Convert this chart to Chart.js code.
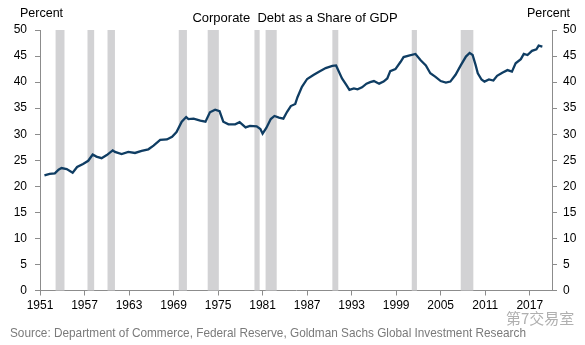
<!DOCTYPE html>
<html>
<head>
<meta charset="utf-8">
<script src="https://cdn.jsdelivr.net/npm/chart.js@4/dist/chart.umd.min.js"></script>
<style>
html,body{margin:0;padding:0;background:#fff;}
#wrap{width:585px;height:345px;position:relative;}
</style>
</head>
<body>
<div id="wrap"><canvas id="c" width="585" height="345"></canvas></div>
<script>
// ---- Data ----
const chartTitle = "Corporate  Debt as a Share of GDP";
const axisUnit = "Percent";
const sourceNote = "Source: Department of Commerce, Federal Reserve, Goldman Sachs Global Investment Research";
const watermark = "第7交易室";

const xTickYears = [1951, 1957, 1963, 1969, 1975, 1981, 1987, 1993, 1999, 2005, 2011, 2017];
const yTickValues = [0, 5, 10, 15, 20, 25, 30, 35, 40, 45, 50];

const recessionStarts = [1953.1, 1957.4, 1960.1, 1969.7, 1973.6, 1979.9, 1981.4, 1990.4, 2001.1, 2007.7];
const recessionEnds   = [1954.3, 1958.3, 1961.1, 1970.8, 1975.1, 1980.6, 1982.9, 1991.2, 2001.8, 2009.4];

const years = [
  1951.6, 1952.3, 1953.0, 1953.5, 1953.9, 1954.6, 1955.4, 1956.0, 1956.8, 1957.5,
  1958.1, 1958.6, 1959.3, 1960.0, 1960.8, 1961.1, 1962.0, 1962.9, 1963.8, 1964.7,
  1965.6, 1966.3, 1967.2, 1968.1, 1968.8, 1969.4, 1970.1, 1970.7, 1971.0, 1971.7,
  1972.6, 1973.3, 1973.9, 1974.6, 1975.2, 1975.7, 1976.4, 1977.3, 1977.9, 1978.7,
  1979.3, 1980.2, 1980.7, 1981.0, 1981.5, 1982.1, 1982.6, 1983.2, 1983.8, 1984.3,
  1984.8, 1985.4, 1985.7, 1986.3, 1987.0, 1987.9, 1988.6, 1989.5, 1990.4, 1990.9,
  1991.7, 1992.3, 1992.7, 1993.3, 1993.8, 1994.4, 1995.0, 1995.5, 1996.0, 1996.7,
  1997.3, 1997.8, 1998.2, 1998.9, 1999.6, 2000.0, 2000.7, 2001.6, 2002.3, 2003.0,
  2003.6, 2004.3, 2005.0, 2005.7, 2006.3, 2007.0, 2007.7, 2008.4, 2008.9, 2009.3,
  2009.7, 2010.0, 2010.5, 2010.9, 2011.5, 2012.1, 2012.6, 2013.3, 2014.0, 2014.6,
  2015.1, 2015.8, 2016.2, 2016.7, 2017.3, 2017.9, 2018.2, 2018.7
];
const debtShare = [
  22.1, 22.4, 22.5, 23.2, 23.5, 23.3, 22.6, 23.7, 24.3, 24.9,
  26.1, 25.7, 25.4, 26.0, 26.9, 26.6, 26.2, 26.6, 26.4, 26.8,
  27.1, 27.8, 28.9, 29.0, 29.5, 30.4, 32.4, 33.3, 32.9, 33.0,
  32.6, 32.4, 34.2, 34.7, 34.4, 32.4, 31.9, 31.9, 32.3, 31.3,
  31.6, 31.5, 31.0, 30.1, 31.2, 32.9, 33.5, 33.2, 33.0, 34.3,
  35.4, 35.8, 37.1, 39.1, 40.6, 41.4, 42.0, 42.7, 43.1, 43.2,
  40.7, 39.4, 38.5, 38.8, 38.6, 39.0, 39.7, 40.0, 40.2, 39.7,
  40.1, 40.7, 42.1, 42.5, 43.9, 44.8, 45.1, 45.4, 44.2, 43.2,
  41.7, 41.0, 40.2, 39.9, 40.1, 41.4, 43.2, 44.9, 45.6, 45.2,
  43.3, 41.7, 40.5, 40.1, 40.5, 40.3, 41.2, 41.8, 42.3, 42.0,
  43.6, 44.4, 45.4, 45.2, 46.0, 46.3, 47.0, 46.8
];

// ---- Chart ----
const FONT = "'Liberation Sans', Arial, sans-serif";
const AXIS_GREY = '#8c8c8c';

const recessionPlugin = {
  id: 'recessions',
  beforeDatasetsDraw(chart) {
    const {ctx, chartArea, scales} = chart;
    ctx.save();
    ctx.fillStyle = '#d2d2d4';
    for (let i = 0; i < recessionStarts.length; i++) {
      const x0 = scales.x.getPixelForValue(recessionStarts[i]);
      const x1 = scales.x.getPixelForValue(recessionEnds[i]);
      ctx.fillRect(x0, chartArea.top, x1 - x0, chartArea.bottom - chartArea.top);
    }
    ctx.restore();
  }
};

const textPlugin = {
  id: 'texts',
  afterDraw(chart) {
    const ctx = chart.ctx;
    ctx.save();
    ctx.fillStyle = '#000';
    ctx.textBaseline = 'alphabetic';
    ctx.font = '13px ' + FONT;
    ctx.textAlign = 'center';
    ctx.fillText(chartTitle, 295, 22);
    ctx.textAlign = 'left';
    ctx.font = '12.5px ' + FONT;
    ctx.fillText(axisUnit, 20, 17);
    ctx.fillText(axisUnit, 527, 17);
    ctx.fillStyle = '#7a7a7a';
    ctx.font = "13.5px 'Liberation Sans Narrow', 'Liberation Sans', Arial, sans-serif";
    ctx.fillText(sourceNote, 10, 337, 516);
    ctx.fillStyle = '#b0b0b0';
    ctx.font = "15px 'Noto Sans CJK SC', sans-serif";
    ctx.fillText(watermark, 506, 324);
    ctx.restore();
  }
};

const yTicksCommon = {
  color: '#000',
  font: {family: FONT, size: 12},
  stepSize: 5,
};

new Chart(document.getElementById('c'), {
  type: 'line',
  data: {
    datasets: [{
      label: 'Corporate Debt / GDP',
      data: years.map((y, i) => ({x: y, y: debtShare[i]})),
      borderColor: '#0f3d63',
      borderWidth: 2.3,
      pointRadius: 0,
      tension: 0,
      fill: false
    }]
  },
  options: {
    responsive: false,
    animation: false,
    devicePixelRatio: 1,
    layout: {padding: {top: 30, right: 0, bottom: 30.5, left: 0}},
    plugins: {legend: {display: false}, title: {display: false}, tooltip: {enabled: false}},
    scales: {
      x: {
        type: 'linear',
        min: 1951,
        max: 2020,
        afterBuildTicks(scale) { scale.ticks = xTickYears.map(v => ({value: v})); },
        afterFit(scale) { scale.height = 24; },
        ticks: {
          color: '#000',
          font: {family: FONT, size: 12},
          padding: 3,
          maxRotation: 0,
          autoSkip: false,
          callback: v => String(v)
        },
        grid: {drawOnChartArea: false, drawTicks: true, tickLength: 5, color: AXIS_GREY},
        border: {display: true, color: AXIS_GREY, width: 1}
      },
      y: {
        position: 'left',
        min: 0, max: 50,
        afterBuildTicks(scale) { scale.ticks = yTickValues.map(v => ({value: v})); },
        afterFit(scale) { scale.width = 40; },
        ticks: Object.assign({padding: 8}, yTicksCommon),
        grid: {drawOnChartArea: false, drawTicks: true, tickLength: 5, color: AXIS_GREY},
        border: {display: true, color: AXIS_GREY, width: 1}
      },
      y2: {
        position: 'right',
        min: 0, max: 50,
        afterBuildTicks(scale) { scale.ticks = yTickValues.map(v => ({value: v})); },
        afterFit(scale) { scale.width = 33; },
        ticks: Object.assign({padding: 6}, yTicksCommon),
        grid: {drawOnChartArea: false, drawTicks: true, tickLength: 5, color: AXIS_GREY},
        border: {display: true, color: AXIS_GREY, width: 1}
      }
    }
  },
  plugins: [recessionPlugin, textPlugin]
});
</script>
</body>
</html>
